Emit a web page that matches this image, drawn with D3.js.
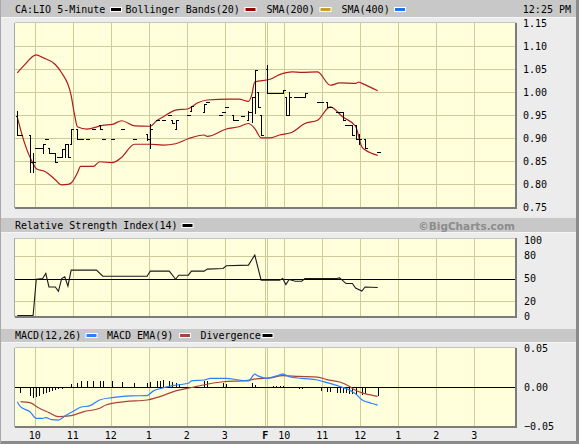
<!DOCTYPE html>
<html><head><meta charset="utf-8">
<script src="https://cdn.jsdelivr.net/npm/d3@7"></script>
<style>
html,body{margin:0;padding:0;background:#ececec;}
svg{display:block;}
text{font-family:"DejaVu Sans Mono",monospace;font-size:10px;fill:#000;}
</style></head>
<body><svg id="c" width="579" height="444"></svg>
<script>
// ---------------- DATA ----------------
const title = "CA:LIO 5-Minute";
const timeStamp = "12:25 PM";
const legendPrice = ["Bollinger Bands(20)", "SMA(200)", "SMA(400)"];
const rsiTitle = "Relative Strength Index(14)";
const macdLegend = ["MACD(12,26)", "MACD EMA(9)", "Divergence"];
const credit = "\u00A9BigCharts.com";

// 5-minute bar index: day 1 = 0..77, day 2 = 78..155
const barIdx   = [0,1,4,5,6,7,8,9,10,11,12,13,14,15,16,17,19,20,22,24,26,27,30,33,37,41,42,44,46,48,49,50,54,55,59,60,64,65,66,68,69,71,73,74,75,76,77,78,79,80,81,82,83,84,85,87,88,89,90,94,95,97,98,100,101,102,103,104,105,106,107,109,113];
const barOpen  = [.949,.908,.908,.849,.879,.878,.878,.899,.879,.869,.869,.859,.859,.877,.888,.888,.92,.899,.899,.92,.928,.899,.899,.92,.899,.91,.899,.939,.939,.95,.939,.921,.95,.96,.957,.979,.95,.957,.968,.95,.939,.949,.939,.957,.99,1.0,.95,1.05,.998,.998,.998,.998,.998,.99,.95,.99,.99,.99,.99,.978,.978,.978,.968,.957,.957,.957,.928,.928,.928,.928,.899,.899,.87];
const barHigh  = [.959,.908,.908,.867,.879,.878,.888,.899,.879,.869,.869,.859,.877,.888,.888,.92,.92,.899,.899,.92,.928,.899,.899,.92,.899,.91,.93,.939,.939,.95,.939,.939,.95,.97,.975,.979,.95,.957,.968,.95,.939,.949,.959,.99,1.049,1.0,.95,1.059,.998,.998,.998,.998,1.005,.99,1.0,.99,.99,.99,.998,.978,.978,.978,.968,.957,.957,.957,.928,.928,.928,.928,.91,.899,.87];
const barLow   = [.908,.908,.827,.827,.879,.878,.869,.899,.869,.869,.849,.859,.859,.859,.859,.888,.899,.899,.899,.92,.92,.899,.899,.92,.899,.896,.878,.939,.939,.95,.932,.921,.95,.96,.957,.979,.95,.957,.968,.939,.939,.949,.939,.935,.954,.968,.908,.998,.998,.998,.998,.998,.998,.95,.95,.99,.99,.99,.99,.978,.978,.968,.968,.957,.957,.939,.928,.928,.907,.899,.888,.878,.87];
const barClose = [.908,.908,.849,.849,.879,.878,.888,.899,.869,.869,.849,.859,.877,.888,.859,.919,.899,.899,.899,.92,.92,.899,.899,.92,.899,.899,.92,.939,.939,.95,.932,.939,.95,.97,.975,.979,.95,.957,.968,.939,.939,.949,.957,.99,1.049,.968,.908,.998,.998,.998,.998,.998,1.005,.95,.99,.99,.99,.99,.998,.978,.978,.968,.968,.957,.957,.939,.928,.928,.907,.899,.899,.878,.87];

const bbUpIdx = [0,2,6,8,12,14,17,18,19,22,27,30,33,37,42,44,46,50,54,57,60,67,70,73,74,75,79,82,86,89,94,98,101,106,107,108,113];
const bbUpVal = [1.042,1.057,1.081,1.075,1.060,1.042,0.993,0.954,0.925,0.920,0.928,0.930,0.938,0.927,0.926,0.938,0.946,0.961,0.964,0.977,0.983,0.985,0.985,0.980,0.993,1.022,1.028,1.038,1.044,1.043,1.044,1.015,1.020,1.019,1.022,1.019,1.003];
const bbLoIdx = [0,2,5,6,9,12,14,16,17,19,20,24,26,30,33,37,42,46,50,54,59,60,66,70,73,75,77,79,82,86,90,94,98,102,106,108,109,113];
const bbLoVal = [0.946,0.896,0.845,0.834,0.827,0.810,0.799,0.800,0.803,0.825,0.839,0.839,0.849,0.847,0.859,0.887,0.887,0.885,0.888,0.899,0.907,0.904,0.920,0.925,0.932,0.921,0.901,0.901,0.907,0.913,0.932,0.939,0.968,0.946,0.926,0.881,0.875,0.863];

const rsiIdx = [0,5,6,8,9,10,12,13,14,15,16,17,25,27,41,42,48,50,51,54,55,59,60,65,66,73,75,77,82,83,84,85,87,89,90,100,101,103,105,106,108,109,113];
const rsiVal = [0,0,49.1,50,56.7,38.9,38.9,33.2,50,52.2,39.9,61.1,61.1,53.1,53.1,59.7,59.7,49.1,54.4,54.4,59.7,59.7,62.4,63.3,66.8,67.7,80.9,47.8,47.8,50,42.1,48.7,46.5,46.5,50,50,50.9,43.4,43.4,37.6,33.6,38.9,38.1];

const macdIdx = [0,1,4,6,8,9,11,13,15,18,20,23,26,30,36,41,43,45,49,54,55,59,61,66,70,73,75,76,78,81,83,85,89,94,97,101,104,106,108,111,113];
const macdVal = [-0.0185,-0.0249,-0.0313,-0.0398,-0.0398,-0.039,-0.0415,-0.042,-0.0368,-0.030,-0.0257,-0.0236,-0.0163,-0.0133,-0.0112,-0.0107,-0.0047,-0.002,0.002,0.005,0.008,0.0092,0.0113,0.0113,0.0092,0.008,0.0166,0.0145,0.0113,0.0145,0.0166,0.0136,0.0113,0.0092,0.0058,0.0009,-0.0034,-0.0085,-0.016,-0.0205,-0.023];
const sigIdx = [1,4,7,10,13,17,21,26,28,34,41,45,50,55,58,65,72,76,79,83,88,94,97,101,104,106,109,113];
const sigVal = [-0.0185,-0.0198,-0.027,-0.0325,-0.0377,-0.0364,-0.0313,-0.027,-0.0227,-0.0185,-0.0164,-0.0121,-0.0047,-0.0004,0.0022,0.007,0.0083,0.0109,0.0118,0.0147,0.0138,0.013,0.0096,0.0066,0.0011,-0.004,-0.0083,-0.0117];
const divIdx = [1,4,5,6,7,8,9,10,11,12,13,14,15,17,19,20,22,24,26,27,30,33,37,41,42,44,45,46,48,49,50,51,59,60,65,66,74,75,77,80,81,82,83,87,88,89,95,97,98,100,101,102,103,104,105,106,108,109,113];
const divVal = [-0.0069,-0.011,-0.0141,-0.0128,-0.011,-0.0086,-0.0069,-0.0056,-0.0047,-0.0035,-0.0026,-0.0017,-0.0009,0.0043,0.006,0.0073,0.0073,0.0081,0.0081,0.0081,0.0073,0.0064,0.0056,0.006,0.0064,0.0073,0.0073,0.0086,0.0081,0.0068,0.0051,0.0043,0.0073,0.0073,0.0051,0.0043,0.006,0.0026,-0.0013,0.0017,0.0017,0.0017,0.0017,-0.0013,-0.0022,-0.0022,-0.0043,-0.0056,-0.0065,-0.0069,-0.0077,-0.0077,-0.0069,-0.0086,-0.0086,-0.0099,-0.0099,-0.0086,-0.011];

const hourIdx = [6,18,30,42,54,66,84,96,108,120,132,144];
const hourLbl = ["10","11","12","1","2","3","10","11","12","1","2","3"];
const dayBreakIdx = 78;
const dayBreakLbl = "F";
const priceTicks = [0.75,0.80,0.85,0.90,0.95,1.00,1.05,1.10,1.15];
const rsiTicks = [0,20,50,80,100];
const macdTicks = [-0.05,0,0.05];

// ---------------- LAYOUT ----------------
const svg = d3.select("#c");
const L = 14.5, R = 515.7;
const P = {top:22.5, bot:207.7};
const Rs = {top:238.3, bot:316.7};
const M = {top:347.7, bot:426.7};
const col = {bg:"#ececec", head:"#c8c8c8", plot:"#ffffdb", grid:"#cccc99", bb:"#b01c1c",
             sma2:"#cc9933", sma4:"#1a73ff", macd:"#2a80ff", sig:"#a8453a"};

const x = d3.scaleLinear().domain([0, dayBreakIdx-1e-6, dayBreakIdx, 156]).range([15.7, 262.7, 265.3, 512.3]);
const yP = d3.scaleLinear().domain([0.75,1.15]).range([207.4,23]);
const yR = d3.scaleLinear().domain([0,103]).range([316.5,238.3]);
const yM = d3.scaleLinear().domain([-0.0505,0.0505]).range([426.7,347.7]);
const cx = i => x(i+0.5);
const px = v => Math.round(v)+0.5;

svg.append("rect").attr("width",579).attr("height",444).attr("fill",col.bg);
// outer frame
svg.append("line").attr("x1",577.5).attr("x2",577.5).attr("y1",0).attr("y2",444).attr("stroke","#8a8a8a").attr("stroke-width",3);
svg.append("line").attr("x1",0).attr("x2",579).attr("y1",442.5).attr("y2",442.5).attr("stroke","#8a8a8a").attr("stroke-width",3);
svg.append("line").attr("x1",0.5).attr("x2",0.5).attr("y1",0).attr("y2",444).attr("stroke","#a8a8a8");

// header bars
function headBar(y0,y1){
  svg.append("rect").attr("x",1).attr("y",y0).attr("width",575).attr("height",y1-y0).attr("fill",col.head);
  svg.append("line").attr("x1",1).attr("x2",576).attr("y1",y1+0.5).attr("y2",y1+0.5).attr("stroke","#f6f6f6");
}
headBar(0,17);
headBar(218,232);
headBar(329,342);

function swatch(xx,yy,c){
  svg.append("rect").attr("x",xx).attr("y",yy).attr("width",11).attr("height",4).attr("fill",c)
    .attr("stroke","#fff").attr("stroke-width",1);
}
function txt(s,xx,yy,opt={}){
  const t = svg.append("text").attr("x",xx).attr("y",yy).text(s);
  if(opt.anchor) t.attr("text-anchor",opt.anchor);
  if(opt.bold) t.attr("font-weight","bold");
  if(opt.fill) t.style("fill",opt.fill);
  if(opt.family) t.style("font-family",opt.family);
  if(opt.size) t.style("font-size",opt.size);
  return t;
}
// top legend
txt(title,15,13);
swatch(110.5,7.5,"#000");
txt(legendPrice[0],125.5,13);
swatch(245,7.5,"#990000");
txt(legendPrice[1],266.5,13);
swatch(320,7.5,col.sma2);
txt(legendPrice[2],341.5,13);
swatch(394.5,7.5,col.sma4);
txt(timeStamp,571,13,{anchor:"end"});
// RSI header
txt(rsiTitle,15,229);
swatch(182,223.5,"#000");
txt(credit,515,229.5,{anchor:"end",bold:true,fill:"#8c8c8c",family:"'DejaVu Sans',sans-serif",size:"10.5px"});
// MACD header
txt(macdLegend[0],15,339);
swatch(86,333.5,col.macd);
txt(macdLegend[1],107,339);
swatch(179.5,333.5,col.sig);
txt(macdLegend[2],200.5,339);
swatch(262,333.5,"#000");

// panels
function panel(b){
  svg.append("rect").attr("x",L).attr("y",b.top).attr("width",R-L).attr("height",b.bot-b.top).attr("fill",col.plot);
  const g = svg.append("g").attr("shape-rendering","crispEdges");
  hourIdx.forEach(h=>{
    g.append("line").attr("x1",px(x(h))).attr("x2",px(x(h))).attr("y1",b.top).attr("y2",b.bot).attr("stroke",col.grid);
  });
  [-0.5,1.5].forEach(o=>{
    g.append("line").attr("x1",px(x(dayBreakIdx)+o)).attr("x2",px(x(dayBreakIdx)+o)).attr("y1",b.top).attr("y2",b.bot).attr("stroke",col.grid);
  });
  return g;
}
function frame(b){
  const g = svg.append("g").attr("shape-rendering","crispEdges");
  g.append("line").attr("x1",L).attr("x2",R).attr("y1",b.top).attr("y2",b.top).attr("stroke","#c4c4c4");
  g.append("line").attr("x1",L).attr("x2",L).attr("y1",b.top).attr("y2",b.bot).attr("stroke","#a8a8a8");
  g.append("line").attr("x1",L).attr("x2",R+1).attr("y1",b.bot+0.5).attr("y2",b.bot+0.5).attr("stroke","#7c7c7c").attr("stroke-width",2);
  g.append("line").attr("x1",R+0.5).attr("x2",R+0.5).attr("y1",b.top).attr("y2",b.bot+1).attr("stroke","#7c7c7c").attr("stroke-width",2);
}

// ---- price panel
const gp = panel(P);
priceTicks.slice(1,-1).forEach(t=>{
  gp.append("line").attr("x1",L).attr("x2",R).attr("y1",px(yP(t))).attr("y2",px(yP(t))).attr("stroke",col.grid);
});
const bbLine = d3.line().x(d=>cx(d[0])).y(d=>yP(d[1])).curve(d3.curveMonotoneX);
svg.append("path").datum(d3.zip(bbUpIdx,bbUpVal)).attr("d",bbLine).attr("fill","none").attr("stroke",col.bb).attr("stroke-width",1.2);
svg.append("path").datum(d3.zip(bbLoIdx,bbLoVal)).attr("d",bbLine).attr("fill","none").attr("stroke",col.bb).attr("stroke-width",1.2);
const bars = barIdx.map((i,k)=>({i,o:barOpen[k],h:barHigh[k],l:barLow[k],c:barClose[k]}));
const gb = svg.append("g").attr("shape-rendering","crispEdges").attr("stroke","#000").attr("stroke-width",1);
bars.forEach(b=>{
  const xc = px(cx(b.i));
  if(b.h!==b.l) gb.append("line").attr("x1",xc).attr("x2",xc).attr("y1",Math.round(yP(b.h))).attr("y2",Math.round(yP(b.l))+1);
  gb.append("line").attr("x1",xc-2).attr("x2",xc+0.5).attr("y1",px(yP(b.o))).attr("y2",px(yP(b.o)));
  gb.append("line").attr("x1",xc-0.5).attr("x2",xc+2).attr("y1",px(yP(b.c))).attr("y2",px(yP(b.c)));
});
frame(P);
priceTicks.forEach(t=>txt(d3.format(".2f")(t),523,yP(t)+3.5));

// ---- RSI panel
const gr = panel(Rs);
[20,80].forEach(t=>gr.append("line").attr("x1",L).attr("x2",R).attr("y1",px(yR(t))).attr("y2",px(yR(t))).attr("stroke",col.grid));
gr.append("line").attr("x1",L).attr("x2",R).attr("y1",px(yR(50))).attr("y2",px(yR(50))).attr("stroke","#000");
svg.append("path").datum(d3.zip(rsiIdx,rsiVal)).attr("d",d3.line().x(d=>cx(d[0])).y(d=>Math.min(yR(d[1]),315.5)))
  .attr("fill","none").attr("stroke","#1a1a1a").attr("stroke-width",1.1);
frame(Rs);
rsiTicks.forEach(t=>txt(String(t),524,Math.max(yR(t),239)+3.5));

// ---- MACD panel
const gm = panel(M);
gm.append("line").attr("x1",L).attr("x2",R).attr("y1",px(yM(0))).attr("y2",px(yM(0))).attr("stroke","#000");
const gd = svg.append("g").attr("shape-rendering","crispEdges").attr("stroke","#000");
divIdx.forEach((i,k)=>{
  const xc = px(cx(i));
  gd.append("line").attr("x1",xc).attr("x2",xc).attr("y1",yM(0)).attr("y2",yM(divVal[k]));
});
const ml = d3.line().x(d=>cx(d[0])).y(d=>yM(d[1])).curve(d3.curveMonotoneX);
svg.append("path").datum(d3.zip(sigIdx,sigVal)).attr("d",ml).attr("fill","none").attr("stroke",col.sig).attr("stroke-width",1.2);
svg.append("path").datum(d3.zip(macdIdx,macdVal)).attr("d",ml).attr("fill","none").attr("stroke",col.macd).attr("stroke-width",1.2);
frame(M);
macdTicks.forEach(t=>txt(d3.format(".2f")(t).replace("-","\u2212"),524,yM(t)+3.5));

// x-axis labels
hourIdx.forEach((h,k)=>txt(hourLbl[k],x(h),439,{anchor:"middle"}));
txt(dayBreakLbl,x(dayBreakIdx),439,{anchor:"middle",bold:true});
</script></body></html>
